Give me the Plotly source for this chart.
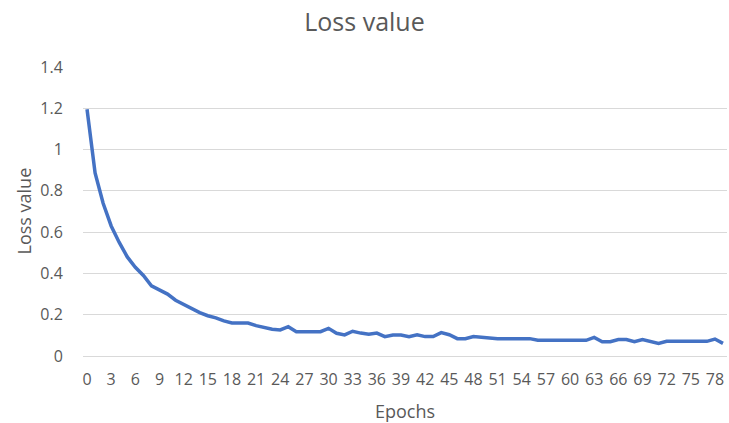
"""
Loss curve — Excel-style line chart recreated with Plotly.
"""

import plotly.graph_objects as go

# Data
epochs = list(range(80))
loss = [
    1.195, 0.887, 0.74, 0.63, 0.55, 0.48, 0.43, 0.39, 0.34, 0.32,
    0.30, 0.27, 0.25, 0.23, 0.21, 0.195, 0.185, 0.17, 0.16, 0.16,
    0.16, 0.147, 0.137, 0.13, 0.126, 0.142, 0.118, 0.118, 0.118, 0.118,
    0.134, 0.11, 0.102, 0.12, 0.111, 0.105, 0.111, 0.094, 0.102, 0.102,
    0.094, 0.103, 0.094, 0.094, 0.113, 0.103, 0.084, 0.084, 0.094, 0.09,
    0.085, 0.084, 0.084, 0.084, 0.084, 0.084, 0.076, 0.076, 0.076, 0.076,
    0.076, 0.076, 0.076, 0.09, 0.069, 0.069, 0.08, 0.08, 0.069, 0.08,
    0.071, 0.061, 0.071, 0.071, 0.071, 0.071, 0.071, 0.071, 0.082, 0.061,
]
x_ticks = list(range(0, 80, 3))
y_ticks = [0, 0.2, 0.4, 0.6, 0.8, 1, 1.2, 1.4]
y_tick_labels = ["0", "0.2", "0.4", "0.6", "0.8", "1", "1.2", "1.4"]

FONT = "Open Sans"
TEXT_GREY = "#595959"
GRID = "#d9d9d9"

W, H = 729, 423
M_L, M_R, M_T, M_B = 83, 2, 67, 67
PLOT_W = W - M_L - M_R
PLOT_H = H - M_T - M_B

fig = go.Figure(
    go.Scatter(
        x=epochs,
        y=loss,
        mode="lines",
        line=dict(color="#4472C4", width=3.5),
        hoverinfo="x+y",
    )
)

fig.update_layout(
    width=W,
    height=H,
    plot_bgcolor="white",
    paper_bgcolor="white",
    font=dict(family=FONT, color=TEXT_GREY, size=16),
    title=dict(
        text="Loss value",
        x=0.5,
        xanchor="center",
        y=1 - 22 / H,
        yanchor="middle",
        font=dict(size=25, color=TEXT_GREY, family=FONT),
    ),
    margin=dict(l=M_L, r=M_R, t=M_T, b=M_B, autoexpand=False),
    showlegend=False,
    xaxis=dict(
        range=[-0.5, 79.5],
        tickmode="array",
        tickvals=x_ticks,
        ticktext=[str(t) for t in x_ticks],
        tickangle=0,
        showgrid=False,
        zeroline=False,
        showline=False,
        ticks="outside",
        ticklen=9,
        tickcolor="rgba(0,0,0,0)",
        tickfont=dict(size=16, color=TEXT_GREY),
        automargin=False,
    ),
    yaxis=dict(
        range=[0, 1.4],
        tickmode="array",
        tickvals=y_ticks,
        ticktext=y_tick_labels,
        showgrid=True,
        gridcolor=GRID,
        gridwidth=1,
        zeroline=True,
        zerolinecolor=GRID,
        zerolinewidth=1,
        showline=False,
        ticks="outside",
        ticklen=16,
        tickcolor="rgba(0,0,0,0)",
        tickfont=dict(size=16, color=TEXT_GREY),
        automargin=False,
    ),
    annotations=[
        dict(
            text="Epochs",
            xref="paper", yref="paper",
            x=0.5, y=(M_T + PLOT_H - 411) / PLOT_H,
            xanchor="center", yanchor="middle",
            showarrow=False,
            font=dict(size=18, color=TEXT_GREY, family=FONT),
        ),
        dict(
            text="Loss value",
            xref="paper", yref="paper",
            x=(23 - M_L) / PLOT_W, y=0.5,
            xanchor="center", yanchor="middle",
            textangle=-90,
            showarrow=False,
            font=dict(size=18, color=TEXT_GREY, family=FONT),
        ),
    ],
)

# the page body has a default 8px margin; drop it so the figure fills the window
fig.write_html(
    "out.html",
    config={"displayModeBar": False},
    post_script="document.body.style.margin='0';",
)
